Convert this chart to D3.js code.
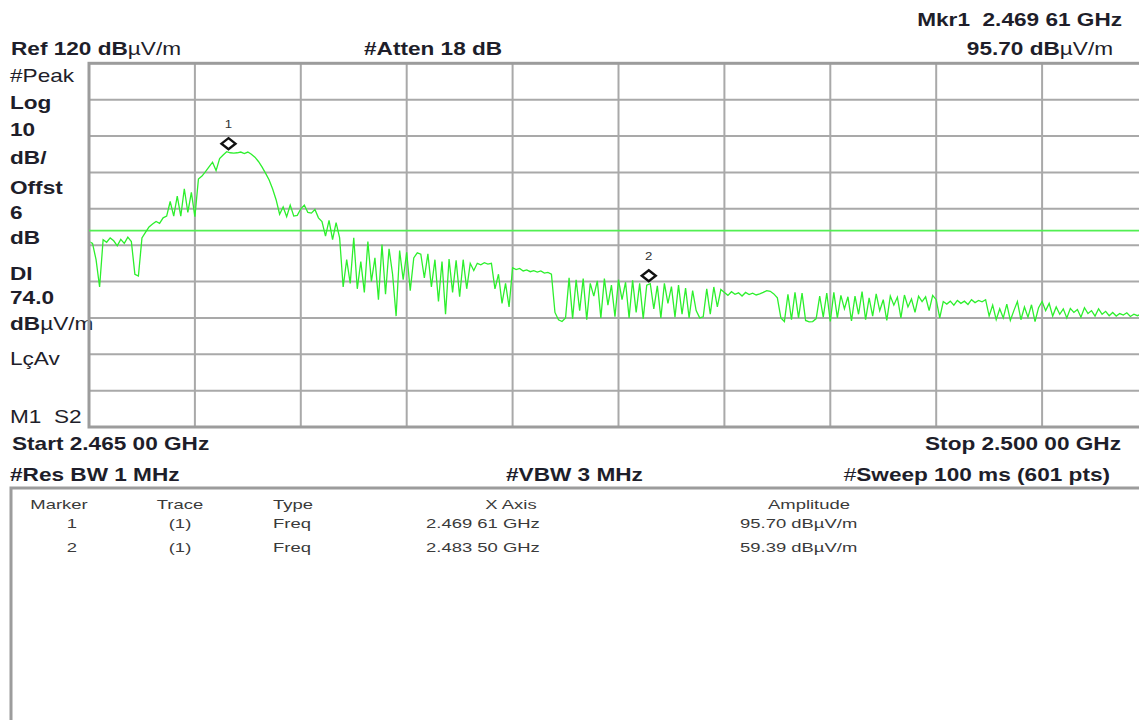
<!DOCTYPE html>
<html>
<head>
<meta charset="utf-8">
<script src="https://cdn.jsdelivr.net/npm/d3@7"></script>
<style>
  body { margin: 0; background: #fff; }
  svg { display: block; font-family: "Liberation Sans", Arial, sans-serif; }
</style>
</head>
<body>
<div id="chart"></div>
<script>
// sweep settings
var startGHz = 2.465, stopGHz = 2.500;
var refLevel = 120, dbPerDiv = 10, divisions = 10;
var displayLine = 74.0;

// trace, 301 points (dBuV/m)
var traceDb = [
  71.0,70.5,66.0,58.5,71.5,70.8,72.0,71.2,69.8,71.6,
  70.5,72.2,71.0,62.0,61.5,72.0,73.5,75.0,75.8,76.5,
  76.0,77.5,78.0,82.0,78.0,83.5,78.0,85.5,79.0,84.5,
  77.8,88.2,89.0,90.2,91.5,92.8,90.5,93.8,94.8,95.7,
  95.4,95.3,95.4,95.6,95.2,95.6,95.0,94.2,93.0,91.5,
  89.8,88.0,85.5,82.5,78.5,80.5,77.8,81.0,78.0,78.2,
  80.0,81.0,79.0,78.8,79.8,77.5,76.5,72.5,76.8,71.5,
  76.2,72.0,58.5,66.0,59.5,72.0,58.0,65.5,57.0,71.0,
  60.0,66.5,55.0,70.2,56.5,69.0,62.0,50.5,68.5,60.5,
  68.0,57.5,66.5,67.9,67.5,61.0,67.6,58.5,66.0,54.5,
  65.5,51.0,66.2,57.0,65.8,55.8,66.0,58.0,65.0,63.0,
  65.0,64.6,65.2,64.8,65.0,58.0,62.0,54.0,59.5,53.0,
  63.8,63.3,63.6,62.9,63.2,62.7,63.0,62.6,62.9,62.3,
  62.5,62.0,51.5,49.5,49.0,50.0,61.0,49.8,60.5,52.0,
  60.8,49.5,59.5,56.0,60.2,50.0,60.8,53.5,59.0,50.3,
  60.5,55.0,59.8,50.0,60.3,51.5,59.5,49.8,59.0,59.4,
  52.5,58.8,50.0,59.5,54.0,58.6,50.2,59.0,51.0,58.2,
  50.0,57.5,52.0,50.0,50.3,58.0,51.0,58.5,53.0,57.8,
  57.0,56.2,57.2,56.5,56.9,56.0,57.0,56.4,56.8,56.3,
  56.6,57.0,57.5,57.3,56.6,55.5,50.0,49.0,56.5,49.5,
  57.0,50.0,56.8,49.3,48.9,49.0,49.8,56.0,50.2,56.8,
  49.0,57.0,50.0,56.2,52.5,55.8,49.2,56.0,51.0,57.2,
  49.5,55.5,50.5,56.6,52.0,55.0,49.3,56.0,53.5,55.7,
  50.0,56.3,53.0,55.2,51.5,56.0,54.5,55.8,52.0,56.2,
  55.0,50.0,54.5,53.8,54.6,53.5,54.8,54.0,54.6,53.7,
  55.0,54.2,54.8,54.4,55.0,50.5,53.5,49.5,52.5,50.0,
  53.8,49.3,52.0,54.5,49.5,53.0,50.2,53.6,49.0,52.8,
  54.5,52.0,54.0,50.5,53.0,51.0,52.5,50.0,52.6,51.5,
  52.3,50.2,52.8,51.2,52.0,50.5,52.5,51.0,51.8,50.6,
  51.5,50.5,51.2,50.8,51.4,50.4,51.0,50.6,51.0,50.7,
  51.0
];

// markers
var markerIds = [1, 2];
var markerFreq = [2.46961, 2.48350];
var markerAmp = [95.70, 59.39];
var markerFreqText = ["2.469 61 GHz", "2.483 50 GHz"];
var markerAmpText = ["95.70 dBµV/m", "59.39 dBµV/m"];

// side annotations: [text, bold]
var sideLabels = [
  [["#Peak", 0]], [["Log", 1]], [["10", 1]], [["dB/", 1]], [["Offst", 1]], [["6", 1]], [["dB", 1]],
  [["DI", 1]], [["74.0", 1]], [["dB", 1], ["µV/m", 0]], [["LçAv", 0]], [["M1\u00a0\u00a0S2", 0]]
];
var sideBaselines = [82, 109, 136, 164, 194, 219, 244, 280, 304, 330, 365, 423];

var tableHeaders = ["Marker", "Trace", "Type", "X Axis", "Amplitude"];

var W = 1139, H = 720;
var plot = {left: 89, top: 63.3, right: 1148, bottom: 427};
var sx = 1.19; // the screen is stretched sideways
var ink = "#1e1e2a";

var svg = d3.select("#chart").append("svg").attr("width", W).attr("height", H);

var x = d3.scaleLinear().domain([startGHz, stopGHz]).range([plot.left, plot.right]);
var y = d3.scaleLinear().domain([refLevel - dbPerDiv * divisions, refLevel]).range([plot.bottom, plot.top]);

function label(px, py, parts, anchor, size, g) {
  var t = (g || svg).append("text")
    .attr("transform", "translate(" + px + "," + py + ") scale(" + sx + ",1)")
    .attr("text-anchor", anchor || "start")
    .style("font-size", (size || 19) + "px")
    .style("fill", ink);
  parts.forEach(function(p) {
    t.append("tspan").text(p[0]).style("font-weight", p[1] ? "bold" : "normal");
  });
  return t;
}

// header
label(1122, 26, [["Mkr1\u00a0\u00a02.469 61 GHz", 1]], "end");
label(11, 55, [["Ref 120 dB", 1], ["µV/m", 0]]);
label(364, 55, [["#Atten 18 dB", 1]]);
label(1113, 55, [["95.70 dB", 1], ["µV/m", 0]], "end");

sideLabels.forEach(function(parts, i) { label(10, sideBaselines[i], parts); });

// graticule
var gridX = d3.range(divisions + 1).map(function(i) { return startGHz + i * (stopGHz - startGHz) / divisions; });
var gridY = d3.range(divisions + 1).map(function(i) { return refLevel - i * dbPerDiv; });

svg.append("g").selectAll("line").data(gridX.slice(1, -1)).enter().append("line")
  .attr("x1", x).attr("x2", x).attr("y1", plot.top).attr("y2", plot.bottom)
  .style("stroke", "#a9a9a9").style("stroke-width", 2);
svg.append("g").selectAll("line").data(gridY.slice(1, -1)).enter().append("line")
  .attr("x1", plot.left).attr("x2", plot.right).attr("y1", y).attr("y2", y)
  .style("stroke", "#a9a9a9").style("stroke-width", 2);
svg.append("rect")
  .attr("x", plot.left).attr("y", plot.top)
  .attr("width", plot.right - plot.left).attr("height", plot.bottom - plot.top)
  .style("fill", "none").style("stroke", "#9c9c9c").style("stroke-width", 3);

svg.append("clipPath").attr("id", "plotclip").append("rect")
  .attr("x", plot.left + 1.5).attr("y", plot.top + 1.5)
  .attr("width", plot.right - plot.left - 3).attr("height", plot.bottom - plot.top - 3);

// display line
svg.append("line")
  .attr("x1", plot.left).attr("x2", plot.right)
  .attr("y1", y(displayLine)).attr("y2", y(displayLine))
  .style("stroke", "#52ef52").style("stroke-width", 1.6);

// trace
var step = (stopGHz - startGHz) / (traceDb.length - 1);
var line = d3.line()
  .x(function(d, i) { return x(startGHz + i * step); })
  .y(function(d) { return y(d); });

svg.append("path").datum(traceDb)
  .attr("clip-path", "url(#plotclip)")
  .attr("d", line)
  .style("fill", "none").style("stroke", "#2def2d").style("stroke-width", 1.3)
  .style("stroke-linejoin", "miter");

// marker diamonds
var mk = svg.append("g").selectAll("g").data(markerIds).enter().append("g")
  .attr("transform", function(d, i) { return "translate(" + x(markerFreq[i]) + "," + (y(markerAmp[i]) - 8) + ")"; });
mk.append("path")
  .attr("d", "M0,-5.5 L7,0 L0,5.5 L-7,0 Z")
  .style("fill", "none").style("stroke", "#111").style("stroke-width", 2.4);
mk.append("text")
  .attr("y", -16).attr("text-anchor", "middle")
  .attr("transform", "scale(1.2,1)")
  .style("font-size", "11px").style("fill", "#333")
  .text(String);

// footer
label(12, 450, [["Start 2.465 00 GHz", 1]]);
label(1121, 450, [["Stop 2.500 00 GHz", 1]], "end");
label(10, 481, [["#Res BW 1 MHz", 1]]);
label(506, 481, [["#VBW 3 MHz", 1]]);
label(1110, 481, [["#", 0], ["Sweep 100 ms (601 pts)", 1]], "end");

// marker table
svg.append("rect")
  .attr("x", 11).attr("y", 488).attr("width", W + 20).attr("height", H)
  .style("fill", "none").style("stroke", "#9c9c9c").style("stroke-width", 3);

var colCenter = [59, 180, 0, 511, 809];
var tsx = 1.42;
function cell(px, py, txt, anchor) {
  svg.append("text")
    .attr("transform", "translate(" + px + "," + py + ") scale(" + tsx + ",1)")
    .attr("text-anchor", anchor)
    .style("font-size", "13px").style("fill", "#3a3a3a")
    .text(txt);
}
tableHeaders.forEach(function(h, i) {
  if (i == 2) cell(273, 509, h, "start");
  else cell(colCenter[i], 509, h, "middle");
});
markerIds.forEach(function(m, i) {
  var by = 528 + i * 24;
  cell(72, by, String(m), "middle");
  cell(180, by, "(1)", "middle");
  cell(273, by, "Freq", "start");
  cell(426, by, markerFreqText[i], "start");
  cell(740, by, markerAmpText[i], "start");
});
</script>
</body>
</html>
